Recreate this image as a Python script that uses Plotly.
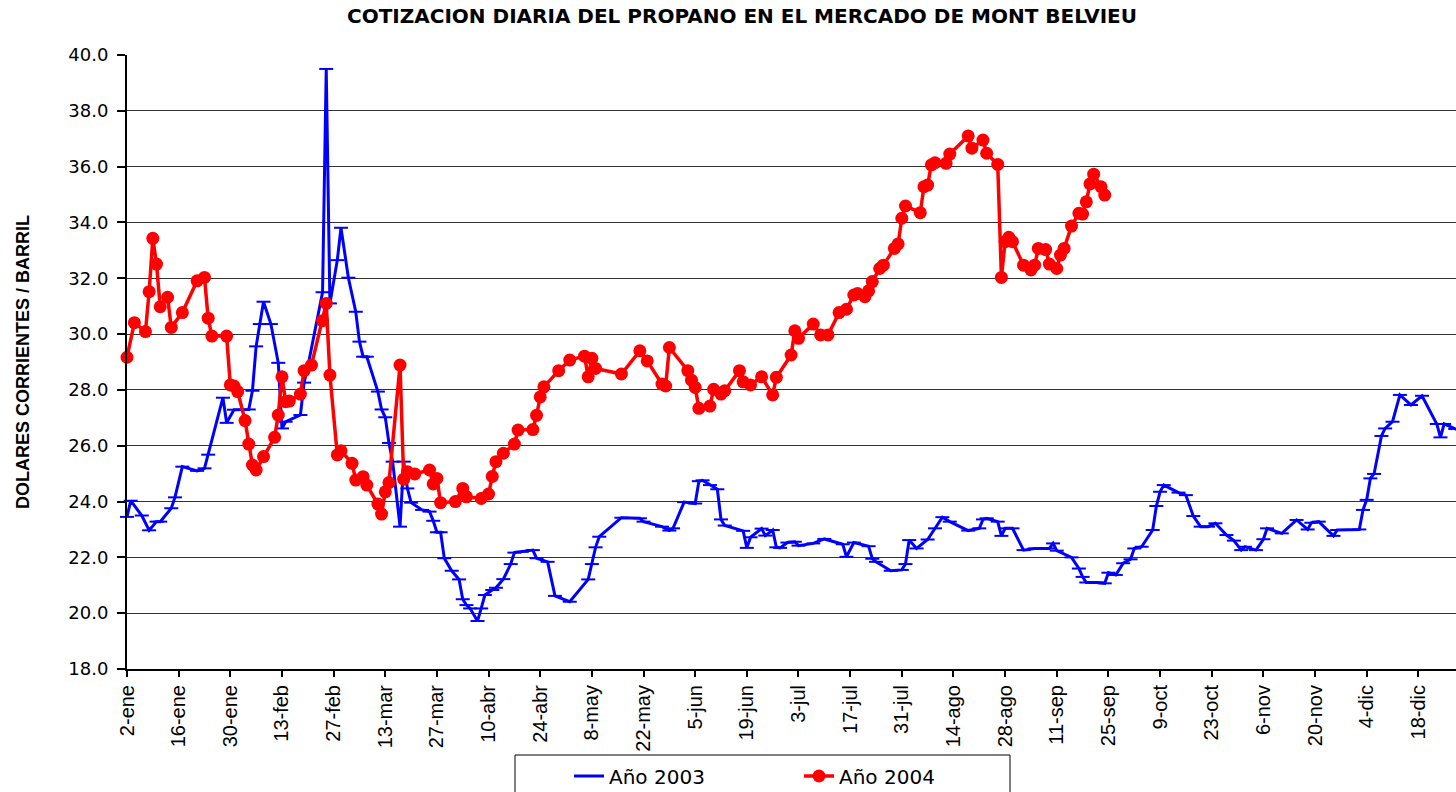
import plotly.graph_objects as go

# Both years share a single January-December calendar axis (month-day).
fechas_2003 = [
    "01-02", "01-03", "01-06", "01-08", "01-10", "01-11", "01-14", "01-15", "01-17", "01-21",
    "01-23", "01-24", "01-28", "01-29", "01-31", "02-04", "02-05", "02-06", "02-07", "02-08",
    "02-10", "02-12", "02-13", "02-14", "02-18", "02-19", "02-20", "02-24", "02-25", "02-26",
    "02-28", "03-01", "03-03", "03-05", "03-06", "03-07", "03-08", "03-11", "03-12", "03-13",
    "03-14", "03-15", "03-17", "03-18", "03-19", "03-20", "03-23", "03-25", "03-26", "03-27",
    "03-28", "03-29", "03-31", "04-02", "04-03", "04-04", "04-05", "04-07", "04-08", "04-09",
    "04-11", "04-12", "04-14", "04-16", "04-17", "04-19", "04-22", "04-23", "04-26", "04-28",
    "05-02", "05-07", "05-08", "05-09", "05-10", "05-16", "05-21", "05-22", "05-27", "05-29",
    "05-30", "06-02", "06-05", "06-06", "06-07", "06-09", "06-11", "06-12", "06-13", "06-18",
    "06-19", "06-20", "06-23", "06-24", "06-26", "06-27", "06-28", "06-30", "07-02", "07-03",
    "07-07", "07-10", "07-15", "07-16", "07-18", "07-22", "07-23", "07-24", "07-28", "07-31",
    "08-01", "08-02", "08-04", "08-07", "08-09", "08-11", "08-13", "08-18", "08-21", "08-22",
    "08-23", "08-26", "08-27", "08-28", "08-30", "09-02", "09-05", "09-09", "09-10", "09-11",
    "09-15", "09-17", "09-18", "09-19", "09-22", "09-24", "09-25", "09-27", "09-29", "10-01",
    "10-02", "10-04", "10-07", "10-08", "10-09", "10-10", "10-14", "10-16", "10-18", "10-20",
    "10-22", "10-24", "10-27", "10-29", "10-31", "11-01", "11-04", "11-06", "11-07", "11-11",
    "11-15", "11-18", "11-19", "11-21", "11-25", "11-26", "12-02", "12-03", "12-04", "12-05",
    "12-06", "12-08", "12-09", "12-11", "12-13", "12-16", "12-19", "12-23", "12-24", "12-25",
    "12-28", "12-30",
]
precios_2003 = [
    23.45, 24.03, 23.50, 22.97, 23.28, 23.28, 23.76, 24.15, 25.25, 25.10,
    25.19, 25.68, 27.72, 26.82, 27.29, 27.30, 27.97, 29.56, 30.36, 31.16,
    30.36, 28.97, 26.62, 26.86, 27.10, 28.26, 28.83, 31.50, 39.50, 31.10,
    32.65, 33.81, 32.02, 30.80, 29.73, 29.19, 29.19, 27.94, 27.30, 27.02,
    26.10, 25.43, 23.10, 25.43, 24.47, 23.96, 23.70, 23.64, 23.31, 22.90,
    22.90, 21.97, 21.52, 21.21, 20.50, 20.29, 20.17, 19.72, 20.17, 20.65,
    20.83, 20.91, 21.22, 21.76, 22.17, 22.20, 22.26, 21.97, 21.84, 20.62,
    20.41, 21.21, 21.76, 22.36, 22.74, 23.42, 23.40, 23.28, 23.10, 22.96,
    23.04, 23.98, 23.93, 24.73, 24.76, 24.59, 24.44, 23.36, 23.14, 22.95,
    22.34, 22.72, 23.03, 22.78, 22.98, 22.36, 22.34, 22.53, 22.56, 22.42,
    22.50, 22.66, 22.47, 22.02, 22.53, 22.40, 21.95, 21.84, 21.52, 21.55,
    21.76, 22.62, 22.32, 22.64, 23.04, 23.44, 23.28, 22.96, 23.04, 23.36,
    23.40, 23.28, 22.77, 23.04, 23.04, 22.26, 22.32, 22.32, 22.50, 22.24,
    22.00, 21.60, 21.30, 21.10, 21.10, 21.07, 21.45, 21.37, 21.79, 21.93,
    22.32, 22.38, 22.98, 23.84, 24.35, 24.59, 24.32, 24.23, 23.48, 23.10,
    23.10, 23.22, 22.80, 22.60, 22.26, 22.38, 22.26, 22.65, 23.04, 22.86,
    23.34, 23.00, 23.24, 23.28, 22.77, 22.98, 23.00, 23.70, 24.06, 24.83,
    24.99, 26.35, 26.62, 26.86, 27.82, 27.46, 27.79, 26.78, 26.30, 26.78,
    26.60, 26.50,
]

fechas_2004 = [
    "01-02", "01-04", "01-07", "01-08", "01-09", "01-10", "01-11", "01-13", "01-14", "01-17",
    "01-21", "01-23", "01-24", "01-25", "01-29", "01-30", "01-31", "02-01", "02-03", "02-04",
    "02-05", "02-06", "02-08", "02-11", "02-12", "02-13", "02-14", "02-15", "02-18", "02-19",
    "02-21", "02-24", "02-25", "02-26", "02-28", "03-01", "03-04", "03-05", "03-07", "03-08",
    "03-11", "03-12", "03-13", "03-14", "03-17", "03-18", "03-19", "03-21", "03-25", "03-26",
    "03-27", "03-28", "04-01", "04-03", "04-04", "04-08", "04-10", "04-11", "04-12", "04-14",
    "04-17", "04-18", "04-22", "04-23", "04-24", "04-25", "04-29", "05-02", "05-06", "05-07",
    "05-08", "05-09", "05-16", "05-21", "05-23", "05-27", "05-28", "05-29", "06-03", "06-04",
    "06-05", "06-06", "06-09", "06-10", "06-12", "06-13", "06-17", "06-18", "06-20", "06-23",
    "06-26", "06-27", "07-01", "07-02", "07-03", "07-07", "07-09", "07-11", "07-14", "07-16",
    "07-18", "07-19", "07-21", "07-22", "07-23", "07-25", "07-26", "07-29", "07-30", "07-31",
    "08-01", "08-05", "08-06", "08-07", "08-08", "08-09", "08-12", "08-13", "08-18", "08-19",
    "08-22", "08-23", "08-26", "08-27", "08-28", "08-29", "08-30", "09-02", "09-04", "09-05",
    "09-06", "09-08", "09-09", "09-11", "09-12", "09-13", "09-15", "09-17", "09-18", "09-19",
    "09-20", "09-21", "09-23", "09-24",
]
precios_2004 = [
    29.17, 30.41, 30.09, 31.52, 33.43, 32.51, 30.98, 31.32, 30.24, 30.77,
    31.91, 32.03, 30.57, 29.93, 29.93, 28.18, 28.14, 27.94, 26.90, 26.06,
    25.31, 25.13, 25.61, 26.30, 27.10, 28.47, 27.58, 27.60, 27.85, 28.69,
    28.89, 30.48, 31.10, 28.53, 25.67, 25.82, 25.37, 24.77, 24.89, 24.59,
    23.91, 23.55, 24.35, 24.68, 28.89, 24.80, 25.07, 24.99, 25.13, 24.63,
    24.83, 23.96, 24.00, 24.47, 24.17, 24.11, 24.27, 24.90, 25.43, 25.73,
    26.06, 26.56, 26.58, 27.09, 27.75, 28.11, 28.69, 29.07, 29.21, 28.47,
    29.13, 28.77, 28.57, 29.40, 29.04, 28.21, 28.14, 29.52, 28.69, 28.35,
    28.09, 27.34, 27.42, 28.02, 27.85, 27.97, 28.69, 28.29, 28.18, 28.47,
    27.82, 28.45, 29.25, 30.12, 29.85, 30.36, 29.97, 29.97, 30.77, 30.89,
    31.40, 31.45, 31.34, 31.55, 31.88, 32.35, 32.47, 33.07, 33.23, 34.15,
    34.59, 34.35, 35.28, 35.34, 36.06, 36.14, 36.12, 36.45, 37.10, 36.66,
    36.95, 36.48, 36.08, 32.03, 33.31, 33.47, 33.31, 32.47, 32.30, 32.47,
    33.07, 33.03, 32.51, 32.35, 32.83, 33.07, 33.87, 34.33, 34.30, 34.74,
    35.38, 35.73, 35.28, 34.98,
]

tick_fechas = [
    "01-02", "01-16", "01-30", "02-13", "02-27", "03-13", "03-27", "04-10", "04-24",
    "05-08", "05-22", "06-05", "06-19", "07-03", "07-17", "07-31", "08-14", "08-28",
    "09-11", "09-25", "10-09", "10-23", "11-06", "11-20", "12-04", "12-18",
]
tick_etiquetas = [
    "2-ene", "16-ene", "30-ene", "13-feb", "27-feb", "13-mar", "27-mar", "10-abr", "24-abr",
    "8-may", "22-may", "5-jun", "19-jun", "3-jul", "17-jul", "31-jul", "14-ago", "28-ago",
    "11-sep", "25-sep", "9-oct", "23-oct", "6-nov", "20-nov", "4-dic", "18-dic",
]

ANIO_EJE = "2003-"
def en_eje(fechas):
    return [ANIO_EJE + f for f in fechas]

W, H = 1456, 792
M_L, M_R, M_T, M_B = 127, 0, 55, 123
plot_w = W - M_L - M_R
plot_h = H - M_T - M_B

def px_x(px):
    return (px - M_L) / plot_w

def px_y(py):
    return (H - M_B - py) / plot_h

fig = go.Figure()

fig.add_trace(go.Scatter(
    x=en_eje(fechas_2003), y=precios_2003, name="Año 2003",
    mode="lines+markers",
    line=dict(color="#0000FF", width=3),
    marker=dict(symbol="line-ew", size=10, color="#0000FF",
                line=dict(color="#0000FF", width=2)),
    cliponaxis=False,
))
fig.add_trace(go.Scatter(
    x=en_eje(fechas_2004), y=precios_2004, name="Año 2004",
    mode="lines+markers",
    line=dict(color="#FF0000", width=3.5),
    marker=dict(symbol="circle", size=13, color="#FF0000"),
    cliponaxis=False,
))

fig.update_layout(
    width=W, height=H, autosize=False,
    margin=dict(l=M_L, r=M_R, t=M_T, b=M_B, pad=0),
    paper_bgcolor="white", plot_bgcolor="white",
    font=dict(family="Liberation Sans, Arial, sans-serif", color="black"),
    title=dict(
        text="<b>COTIZACION DIARIA DEL PROPANO EN EL MERCADO DE MONT BELVIEU</b>",
        font=dict(family="DejaVu Sans", size=20, color="black"),
        xref="container", x=742 / W, xanchor="center",
        yref="container", y=1 - 16 / H, yanchor="middle",
    ),
    xaxis=dict(
        type="date",
        range=["2003-01-02", "2003-12-28 05:00"],
        tickmode="array", tickvals=en_eje(tick_fechas), ticktext=tick_etiquetas,
        tickangle=-90,
        tickfont=dict(family="Liberation Sans", size=20, color="black"),
        ticks="outside", ticklen=6, tickwidth=1.5, tickcolor="black",
        showline=True, linecolor="black", linewidth=2,
        showgrid=False, zeroline=False,
    ),
    yaxis=dict(
        range=[18, 40], dtick=2, tick0=18, tickformat=".1f",
        tickfont=dict(family="DejaVu Sans", size=18, color="black"),
        ticks="outside", ticklen=8, tickwidth=1.5, tickcolor="black",
        ticklabelstandoff=5,
        showline=True, linecolor="black", linewidth=2,
        showgrid=True, gridcolor="#333333", gridwidth=1,
        zeroline=False,
    ),
    showlegend=True,
    legend=dict(
        orientation="h",
        xref="container", x=569 / W, xanchor="left",
        yref="container", y=1 - 776 / H, yanchor="middle",
        font=dict(family="DejaVu Sans", size=20, color="black"),
        bgcolor="rgba(0,0,0,0)", borderwidth=0,
        entrywidth=185, entrywidthmode="pixels",
    ),
    annotations=[dict(
        text="<b>DOLARES CORRIENTES / BARRIL</b>",
        textangle=-90,
        xref="paper", yref="paper",
        x=px_x(23), y=0.5, xanchor="center", yanchor="middle",
        showarrow=False,
        font=dict(family="Liberation Sans", size=18, color="black"),
    )],
    shapes=[dict(
        type="rect", xref="paper", yref="paper",
        x0=px_x(515), x1=px_x(1010), y0=px_y(800), y1=px_y(755),
        line=dict(color="black", width=1), fillcolor="rgba(0,0,0,0)",
        layer="below",
    )],
)

fig.write_html("out.html")
